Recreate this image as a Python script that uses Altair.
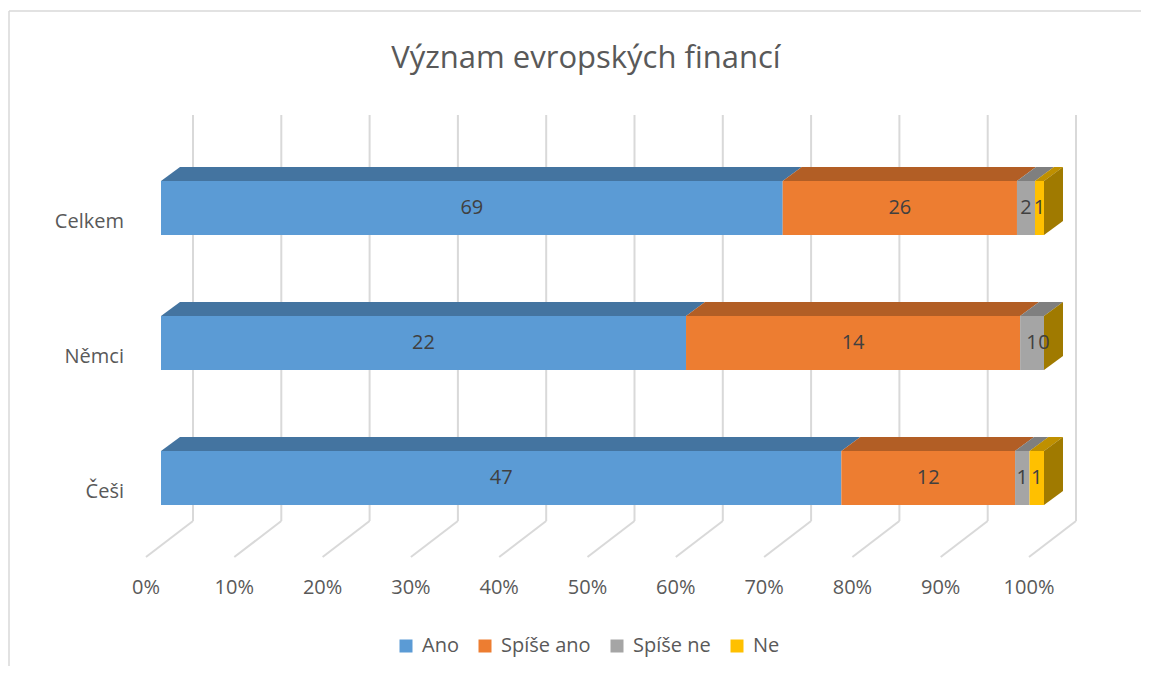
import altair as alt
import pandas as pd

# ---- data ----
title = "Význam evropských financí"
categories = ["Celkem", "Němci", "Češi"]
series = ["Ano", "Spíše ano", "Spíše ne", "Ne"]
ano = [69, 22, 47]
spise_ano = [26, 14, 12]
spise_ne = [2, 1, 1]
ne = [1, 0, 1]
tick_values = [0, 10, 20, 30, 40, 50, 60, 70, 80, 90, 100]
tick_labels = ["0%", "10%", "20%", "30%", "40%", "50%", "60%", "70%", "80%", "90%", "100%"]

# ---- style ----
front_colors = ["#5B9BD5", "#ED7D31", "#A5A5A5", "#FFC000"]
top_colors = ["#4474A0", "#B25E25", "#7F7F7F", "#BF9000"]
side_color = "#A07A00"
FONT = "Open Sans"
TXT = "#595959"
GRID = "#D9D9D9"

W, H = 1133, 658
PX = 8.83          # pixels per percent
X0 = 153           # plot x of 0 %
ROW = 135          # pixels between rows
ROW0 = 200         # plot y of first row centre
x_dom = [-X0 / PX, (W - X0) / PX]
y_dom = [-ROW0 / ROW, (H - ROW0) / ROW]
HALF = 27 / ROW    # half bar height (row units)
DY = 14 / ROW      # 3-D depth, vertical (row units)
DX = 19 / PX       # 3-D depth, horizontal (percent units)

xs = alt.Scale(domain=x_dom, nice=False, zero=False)
ys = alt.Scale(domain=y_dom, nice=False, zero=False, reverse=True)


def clamp(v):
    return max(0.0, min(1.0, v))


values = list(zip(ano, spise_ano, spise_ne, ne))
front_rows, face_rows = [], []
for i, cat in enumerate(categories):
    vals = values[i]
    total = sum(vals)
    cum = 0
    yf = i - HALF
    yb = i + HALF
    for j, s in enumerate(series):
        start = cum / total * 100
        cum += vals[j]
        end = cum / total * 100
        front_rows.append(dict(cat=cat, series=s, value=vals[j], x=start, x2=end,
                               mid=(start + end) / 2, row=i, y=i - HALF, y2=i + HALF))
        # top face (parallelogram) as a ranged area over x
        bps = sorted([start, end, start + DX, end + DX])
        for k, bx in enumerate(bps):
            up = yf - DY * clamp((bx - start) / DX)
            lo = yf - DY * clamp((bx - end) / DX)
            face_rows.append(dict(face=f"{cat}-{s}-top", k=k, px=bx, py=lo, py2=up, fc=top_colors[j]))
    # right side face at the end of the stack
    xe = cum / total * 100
    for k, t in enumerate([0.0, 1.0]):
        face_rows.append(dict(face=f"{cat}-side", k=k, px=xe + DX * t,
                              py=yb - DY * t, py2=yf - DY * t, fc=side_color))

front_df = pd.DataFrame(front_rows)
face_df = pd.DataFrame(face_rows)
ticks_df = pd.DataFrame({"tick": tick_values, "label": tick_labels})
cats_df = pd.DataFrame({"cat": categories, "row": list(range(len(categories)))})
title_df = pd.DataFrame({"t": [title]})

# ---- layers ----
grid_v = alt.Chart(ticks_df).mark_rule(color=GRID, strokeWidth=2, xOffset=32).encode(
    x=alt.X("tick:Q", scale=xs, axis=None),
    y=alt.value(107), y2=alt.value(513))
grid_d = alt.Chart(ticks_df).mark_rule(color=GRID, strokeWidth=2, xOffset=32, x2Offset=-15).encode(
    x=alt.X("tick:Q", scale=xs, axis=None), x2="tick:Q",
    y=alt.value(513), y2=alt.value(549))

faces = alt.Chart(face_df).mark_area(opacity=1, interpolate="linear").encode(
    x=alt.X("px:Q", scale=xs, axis=None, stack=None),
    y=alt.Y("py:Q", scale=ys, axis=None, stack=None),
    y2="py2:Q",
    detail="face:N",
    color=alt.Color("fc:N", scale=None))

fronts = alt.Chart(front_df).mark_rect(opacity=1).encode(
    x=alt.X("x:Q", scale=xs, axis=None),
    x2="x2:Q",
    y=alt.Y("y:Q", scale=ys, axis=None),
    y2="y2:Q",
    color=alt.Color("series:N", scale=alt.Scale(domain=series, range=front_colors),
                    sort=series,
                    legend=alt.Legend(orient="none", legendX=388, legendY=628, direction="horizontal",
                                      title=None, symbolType="square", symbolSize=169,
                                      symbolStrokeWidth=0, labelFont=FONT, labelFontSize=20,
                                      labelColor=TXT, labelOffset=6, columnPadding=16,
                                      padding=0)))

labels = alt.Chart(front_df).mark_text(font=FONT, fontSize=20, color="#404040", baseline="middle").encode(
    x=alt.X("mid:Q", scale=xs, axis=None),
    y=alt.Y("row:Q", scale=ys, axis=None),
    text="value:Q")

cat_labels = alt.Chart(cats_df).mark_text(font=FONT, fontSize=20, color=TXT, align="right",
                                           baseline="middle", dy=14).encode(
    x=alt.value(116),
    y=alt.Y("row:Q", scale=ys, axis=None),
    text="cat:N")

tick_text = alt.Chart(ticks_df).mark_text(font=FONT, fontSize=20, color=TXT, align="center",
                                          baseline="middle", dx=-15).encode(
    x=alt.X("tick:Q", scale=xs, axis=None),
    y=alt.value(580),
    text="label:N")

title_text = alt.Chart(title_df).mark_text(font=FONT, fontSize=31, color=TXT, align="center",
                                           baseline="alphabetic").encode(
    x=alt.value(578), y=alt.value(60), text="t:N")

frame_l = alt.Chart(title_df).mark_rule(color=GRID, strokeWidth=1.5).encode(
    x=alt.value(1), y=alt.value(3), y2=alt.value(H))
frame_t = alt.Chart(title_df).mark_rule(color=GRID, strokeWidth=1.5).encode(
    x=alt.value(1), x2=alt.value(W), y=alt.value(3))

chart = alt.layer(frame_l, frame_t, grid_v, grid_d, faces, fronts, labels,
                  cat_labels, tick_text, title_text).properties(
    width=W, height=H, padding=0, autosize="none"
).resolve_scale(color="independent").configure_view(stroke=None)

chart.save("out.html", embed_options={"renderer": "svg", "actions": False})
